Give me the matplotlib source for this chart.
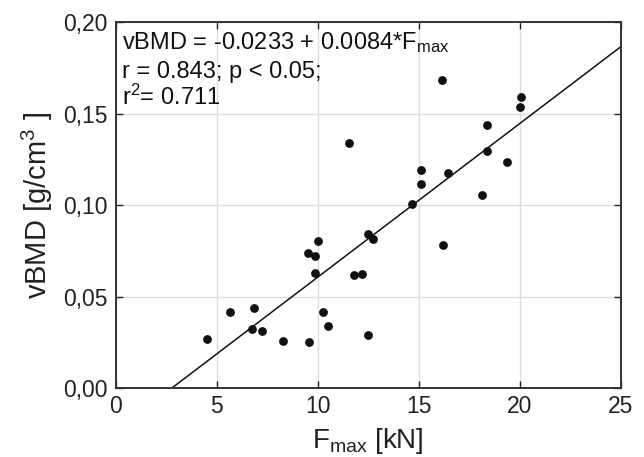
import matplotlib
matplotlib.use("Agg")
import matplotlib.pyplot as plt
import numpy as np
from matplotlib.ticker import FuncFormatter

plt.rcParams['font.family'] = ['Liberation Sans', 'DejaVu Sans']
plt.rcParams['mathtext.fontset'] = 'custom'
plt.rcParams['mathtext.rm'] = 'Liberation Sans'
plt.rcParams['mathtext.it'] = 'Liberation Sans:italic'

fmax = [11.52, 4.49, 5.64, 6.85, 6.73, 7.21, 8.27, 9.55, 9.49, 9.84, 10.03, 9.84,
        10.23, 10.51, 11.80, 12.20, 12.46, 12.46, 18.35, 18.35, 19.37, 15.10, 16.45,
        15.10, 18.15, 14.64, 12.74, 16.20, 16.17, 20.05, 20.00]
vbmd = [0.134, 0.0266, 0.0415, 0.0437, 0.0324, 0.0311, 0.0259, 0.0251, 0.0736, 0.0721,
        0.0803, 0.063, 0.0415, 0.034, 0.0617, 0.0625, 0.0842, 0.0288, 0.1437, 0.1295,
        0.1237, 0.1191, 0.1177, 0.1117, 0.1057, 0.1004, 0.0813, 0.0781, 0.1683, 0.1594,
        0.1536]
intercept = -0.0233
slope = 0.0084
xticks = [0, 5, 10, 15, 20, 25]
yticks = [0.00, 0.05, 0.10, 0.15, 0.20]

fig = plt.figure(figsize=(6.44, 4.57), dpi=100)
ax = fig.add_axes([0.180, 0.151, 0.784, 0.800])

ax.grid(True, color='#dddddd', linewidth=1.0, zorder=0)
ax.set_axisbelow(True)

ax.scatter(fmax, vbmd, s=40, color='#111111', zorder=3, linewidths=0)
xl = np.array([0, 25])
ax.plot(xl, intercept + slope * xl, color='#111111', linewidth=1.1, zorder=2)

ax.set_xlim(0, 25)
ax.set_ylim(0, 0.20)
ax.set_xticks(xticks)
ax.set_yticks(yticks)
ax.yaxis.set_major_formatter(FuncFormatter(lambda v, p: f"{v:.2f}".replace('.', ',')))
ax.tick_params(direction='in', length=5, width=1, labelsize=16.5, colors='#222222',
               top=True, right=True)
ax.tick_params(axis='y', pad=6)
ax.tick_params(axis='x', pad=5)
for s in ax.spines.values():
    s.set_linewidth(1.4)
    s.set_color('#333333')

ax.set_xlabel(r'F$_{\mathrm{max}}$ [kN]', fontsize=20, color='#222222', labelpad=6)
ax.set_ylabel(r'vBMD [g/cm$^{3}$ ]', fontsize=21, color='#222222', labelpad=6)

tk = dict(transform=ax.transAxes, fontsize=17, color='#111111', va='center', ha='left')
ax.text(0.012, 0.945, r'vBMD = -0.0233 + 0.0084*F$_{\mathrm{max}}$', **tk)
ax.text(0.012, 0.863, 'r = 0.843; p < 0.05;', **tk)
ax.text(0.012, 0.795, r'r$^{2}$= 0.711', **tk)

fig.savefig('out.png', dpi=100)
